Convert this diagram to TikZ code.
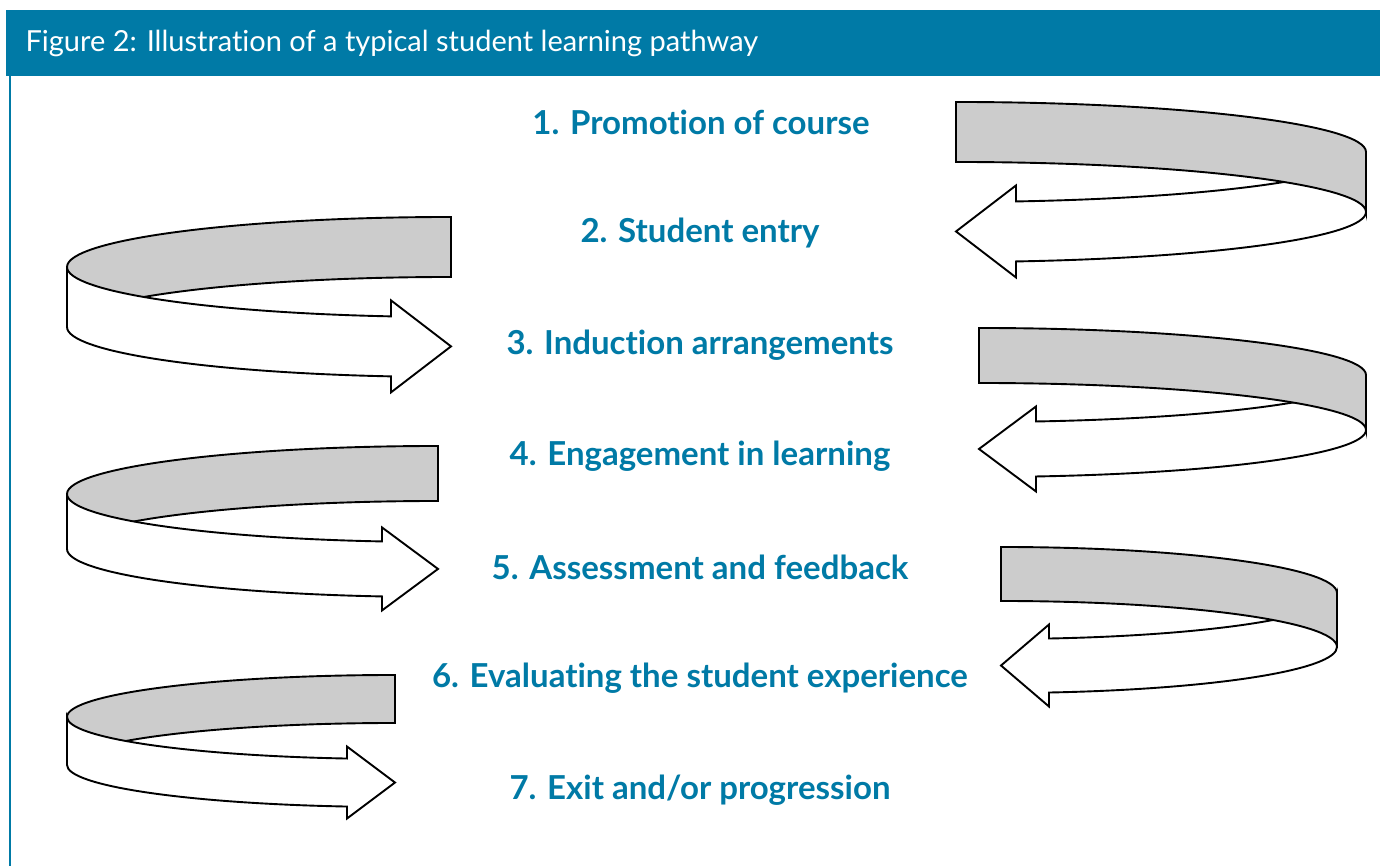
\documentclass[tikz,border=0pt]{standalone}
\usepackage{fontspec}
\setmainfont{Lato}[Ligatures={NoCommon}]
\usepackage{tikz}
\usepackage{xcolor}

\definecolor{pathblue}{RGB}{0,122,166}
\definecolor{ribbongray}{RGB}{204,204,204}

\tikzset{
  ribbon/.style={draw=black, line width=1.9pt, line join=miter},
  stagelabel/.style={text=pathblue, font=\fontsize{33}{38}\selectfont\bfseries},
}

% faces of a curled ribbon arrow, origin at the top corner of its back face
% #1 width, #2 depth of the curl, #3 band height, #4 head length, #5 head overhang
\newcommand{\curlfront}[5]{%
  \pgfmathsetmacro{\bend}{acos(#4/#1)}%
  \draw[ribbon, fill=white] (#1,-#2)
    arc[start angle=0, end angle=-\bend, x radius=#1, y radius=#2]
    -- ++(0,#5) -- ++(-#4,-#5-#3/2) -- ++(#4,-#3/2-#5) -- ++(0,#5)
    arc[start angle=-\bend, end angle=0, x radius=#1, y radius=#2] -- cycle;
}
\newcommand{\curlback}[5]{%
  \draw[ribbon, fill=ribbongray] (0,0)
    arc[start angle=90, end angle=0, x radius=#1, y radius=#2]
    -- ++(0,-#3)
    arc[start angle=0, end angle=90, x radius=#1, y radius=#2] -- cycle;
}

\begin{document}
\begin{tikzpicture}[x=1pt, y=1pt]
    \useasboundingbox[fill=white] (0,0) rectangle (1380,866);

    % Title bar and frame
    \fill[pathblue] (6,790) rectangle (1380,856);
    \draw[pathblue, line width=2.2pt] (10,0) -- (10,790);
    \node[anchor=west, text=white, font=\fontsize{29}{34}\selectfont] (title) at (22,823)
        {Figure 2: Illustration of a typical student learning pathway};

    % Stages of the pathway
    \node[stagelabel] (s1) at (701,744) {1. Promotion of course};
    \node[stagelabel] (s2) at (700,633) {2. Student entry};
    \node[stagelabel] (s3) at (700,521) {3. Induction arrangements};
    \node[stagelabel] (s4) at (700,410) {4. Engagement in learning};
    \node[stagelabel] (s5) at (700,299) {5. Assessment and feedback};
    \node[stagelabel] (s6) at (700,188) {6. Evaluating the student experience};
    \node[stagelabel] (s7) at (700,76) {7. Exit and/or progression};

    % Curls on the right, heads pointing left (back face in front)
    \begin{scope}[shift={(956,764)}]
        \curlfront{410}{50}{60}{60}{16}
        \curlback{410}{50}{60}{60}{16}
    \end{scope}
    \begin{scope}[shift={(979,538)}]
        \curlfront{387}{47}{55}{57}{15}
        \curlback{387}{47}{55}{57}{15}
    \end{scope}
    \begin{scope}[shift={(1001,319)}]
        \curlfront{336}{46}{54}{48}{14}
        \curlback{336}{46}{54}{48}{14}
    \end{scope}

    % Curls on the left, heads pointing right (front face on top)
    \begin{scope}[shift={(451,649)}, xscale=-1]
        \curlback{384}{50}{60}{60}{16}
        \curlfront{384}{50}{60}{60}{16}
    \end{scope}
    \begin{scope}[shift={(438,420)}, xscale=-1]
        \curlback{371}{48}{55}{56}{14}
        \curlfront{371}{48}{55}{56}{14}
    \end{scope}
    \begin{scope}[shift={(395,191)}, xscale=-1]
        \curlback{328}{42}{48}{48}{12}
        \curlfront{328}{42}{48}{48}{12}
    \end{scope}
\end{tikzpicture}
\end{document}
